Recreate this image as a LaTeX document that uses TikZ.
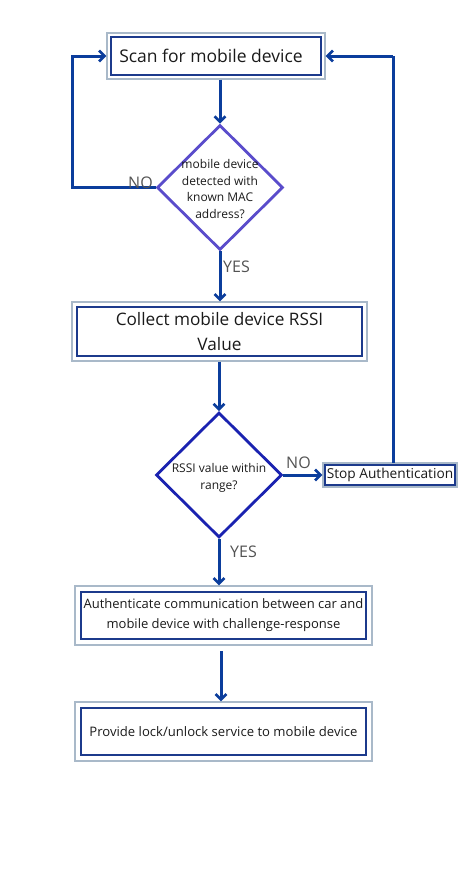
\documentclass[tikz,border=0pt]{standalone}
\usepackage{fontspec}
\setmainfont{Open Sans}
\usetikzlibrary{shapes.geometric,arrows.meta}
\definecolor{conn}{HTML}{0B3D9C}
\definecolor{outerc}{HTML}{A9B9C9}
\definecolor{innerc}{HTML}{1C3A8C}
\definecolor{dia1}{HTML}{5A4CCB}
\definecolor{dia2}{HTML}{1A22B0}
\definecolor{txt}{HTML}{1A1A1A}
\begin{document}
\begin{tikzpicture}[x=1pt,y=-1pt,
  box/.style={draw=outerc, line width=1.2pt, rectangle, inner sep=0pt, text=txt, align=center,
    path picture={\draw[innerc, line width=2pt]
      ([shift={(#1,-#1)}]path picture bounding box.north west) rectangle
      ([shift={(-#1,#1)}]path picture bounding box.south east);}},
  dia/.style={draw=#1, line width=2.8pt, diamond, inner sep=0pt, minimum width=126pt, minimum height=125pt},
  conn/.style={draw=conn, line width=3pt, -{Straight Barb[length=5.5pt,width=11pt,line width=2.6pt]}},
  lab/.style={text=txt!75, font=\fontsize{16}{18}\selectfont, inner sep=0pt}
]
\useasboundingbox (0,0) rectangle (460,876);

\node[box=4pt, minimum width=218pt, minimum height=46pt, font=\fontsize{17.5}{20}\selectfont] (b1) at (216,56) {\hspace*{-10pt}Scan for mobile device};

\node[dia=dia1] (d1) at (220,187.5) {};
\node[text=txt, align=center, font=\fontsize{12}{16.5}\selectfont, inner sep=0pt] (t1) at (220,189) {mobile device\\detected with\\known MAC\\address?};

\node[box=5pt, minimum width=295pt, minimum height=59pt, font=\fontsize{17.2}{25}\selectfont] (b2) at (219.5,331.5) {Collect mobile device RSSI\\Value};

\node[dia=dia2] (d2) at (219,475) {};
\node[text=txt, align=center, font=\fontsize{12}{16.5}\selectfont, inner sep=0pt] (t2) at (219,478) {RSSI value within\\range?};

\node[box=2pt, minimum width=134pt, minimum height=24pt, font=\fontsize{13.7}{15}\selectfont] (st) at (390,475) {Stop Authentication};

\node[box=6pt, minimum width=297pt, minimum height=59pt, font=\fontsize{13}{20}\selectfont] (b3) at (223.5,615.5) {Authenticate communication between car and\\mobile device with challenge-response};

\node[box=6pt, minimum width=297pt, minimum height=59pt, font=\fontsize{13.1}{15}\selectfont] (b4) at (223.5,731.5) {Provide lock/unlock service to mobile device};

\coordinate (lc1) at (72,187.5);
\coordinate (lc2) at (72,56);
\coordinate (rc1) at (393,56);
\coordinate (sttop) at (393,463);
\coordinate (b3bot) at (221,651);

\draw[conn] (b1.south -| d1.north) -- (d1.north);
\draw[conn] (d1.west) -- (lc1) -- (lc2) -- (b1.west);
\draw[conn] (d1.south) -- (d1.south |- b2.north);
\draw[conn] (b2.south -| d2.north) -- (d2.north);
\draw[conn] (d2.east) -- (st.west);
\draw[conn, -] (sttop) -- (rc1);
\draw[conn] (rc1) -- (b1.east);
\draw[conn] (d2.south) -- (d2.south |- b3.north);
\draw[conn] (b3bot) -- (b3bot |- b4.north);

\node[lab, anchor=base west] (no1) at (128,188) {NO};
\node[lab, anchor=base west] (yes1) at (223,272) {YES};
\node[lab, anchor=base west] (no2) at (286,468) {NO};
\node[lab, anchor=base west] (yes2) at (230,557) {YES};
\end{tikzpicture}
\end{document}
